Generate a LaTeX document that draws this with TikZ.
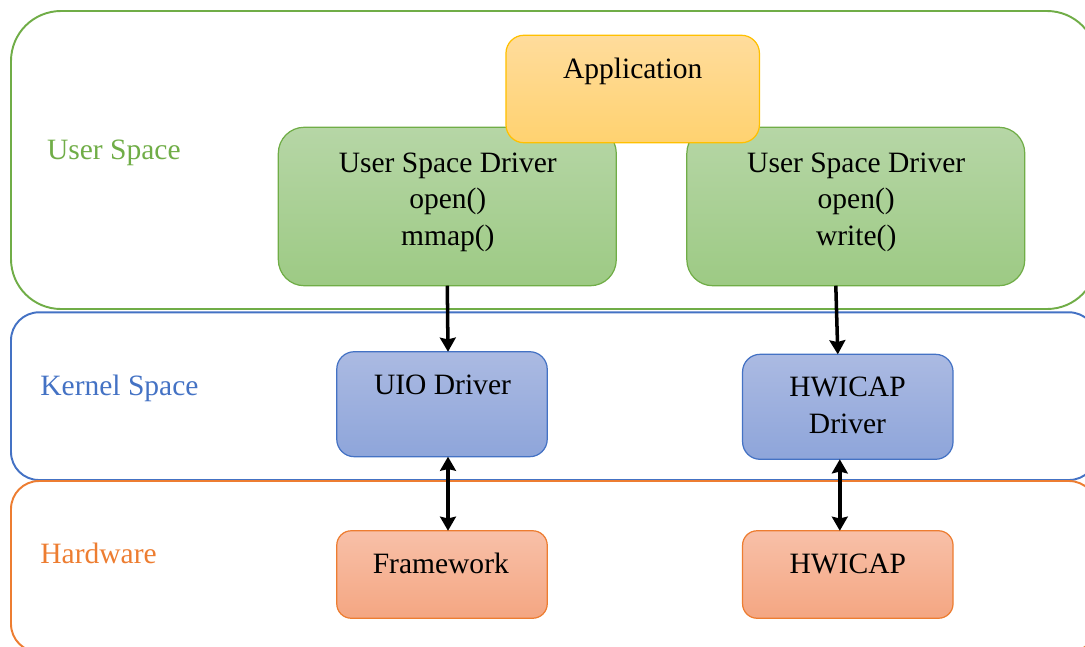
\documentclass[tikz,border=0pt]{standalone}
\usepackage{fontspec}
\setmainfont{Liberation Serif}
\usetikzlibrary{positioning,arrows.meta}

\definecolor{usergreen}{RGB}{112,173,71}
\definecolor{kernelblue}{RGB}{68,114,196}
\definecolor{hworange}{RGB}{237,125,49}
\definecolor{appgold}{RGB}{255,192,0}

\begin{document}
\begin{tikzpicture}[x=0.02cm,y=-0.02cm,>={Stealth[length=8pt,width=9pt,inset=1pt]},
		layer/.style={line width=1.1pt,rounded corners=#1},
		box/.style={rectangle,inner sep=0pt,outer sep=0pt,line width=0.7pt},
		usrbox/.style={box,draw=usergreen,top color={rgb,255:red,182;green,214;blue,166},bottom color={rgb,255:red,157;green,202;blue,132},
			minimum width=6.76cm,minimum height=3.17cm,rounded corners=0.52cm},
		appbox/.style={box,draw=appgold,top color={rgb,255:red,255;green,220;blue,156},bottom color={rgb,255:red,255;green,210;blue,112},
			minimum width=5.07cm,minimum height=2.15cm,rounded corners=0.36cm},
		krnbox/.style={box,draw=kernelblue,top color={rgb,255:red,171;green,186;blue,226},bottom color={rgb,255:red,142;green,165;blue,218},
			minimum width=4.21cm,minimum height=2.1cm,rounded corners=0.35cm},
		hwbox/.style={box,draw=hworange,top color={rgb,255:red,248;green,192;blue,168},bottom color={rgb,255:red,244;green,166;blue,130},
			minimum width=4.21cm,minimum height=1.75cm,rounded corners=0.29cm},
		txt/.style={inner sep=0pt,align=center,anchor=base,font=\fontsize{16.8}{20.7}\selectfont},
		lbl/.style={inner sep=0pt,anchor=base west,font=\fontsize{16.8}{20.7}\selectfont},
		arrow/.style={line width=2pt}
	]

	\useasboundingbox (0,0) rectangle (1085,646);
	\clip (0,0) rectangle (1085,646);

	% layers
	\draw[layer=1cm,usergreen] (11,11) rectangle (1097,309);
	\draw[layer=0.56cm,kernelblue] (11,312.3) rectangle (1097,480);
	\draw[layer=0.56cm,hworange] (11,481) rectangle (1097,652);

	\node[lbl,text=usergreen] (lusr) at (46.7,159.3) {User Space};
	\node[lbl,text=kernelblue] (lkrn) at (40,395) {Kernel Space};
	\node[lbl,text=hworange] (lhw) at (40,563.3) {Hardware};

	% user space
	\node[usrbox] (usdl) at (447.3,206.5) {};
	\node[usrbox] (usdr) at (855.8,206.5) {};
	\node[appbox] (app) at (632.7,89) {};

	% base = last line
	\node[txt] (apptxt) at (632.7,78.3) {Application};
	\node[txt] (usdltxt) at (447.8,245.3) {User Space Driver\\open()\\mmap()};
	\node[txt] (usdrtxt) at (856.2,245.3) {User Space Driver\\open()\\write()};

	% kernel space
	\node[krnbox] (uio) at (442,404.2) {};
	\node[krnbox] (hwd) at (847.8,406.8) {};

	\node[txt] (uiotxt) at (442.5,394.3) {UIO Driver};
	\node[txt] (hwdtxt) at (847.5,433.3) {HWICAP\\Driver};

	% hardware
	\node[hwbox] (fw) at (442,574.5) {};
	\node[hwbox] (hwc) at (847.8,574.5) {};

	\node[txt] (fwtxt) at (440.8,573.3) {Framework};
	\node[txt] (hwctxt) at (847.8,573.3) {HWICAP};

	\draw[arrow,->] (usdl.south) -- ([xshift=0.12cm]uio.north);
	\draw[arrow,<->] ([xshift=0.12cm]uio.south) -- ([xshift=0.12cm]fw.north);
	\draw[arrow,->] ([xshift=-0.4cm]usdr.south) -- ([xshift=-0.2cm]hwd.north);
	\draw[arrow,<->] ([xshift=-0.16cm]hwd.south) -- ([xshift=-0.16cm]hwc.north);

\end{tikzpicture}
\end{document}
